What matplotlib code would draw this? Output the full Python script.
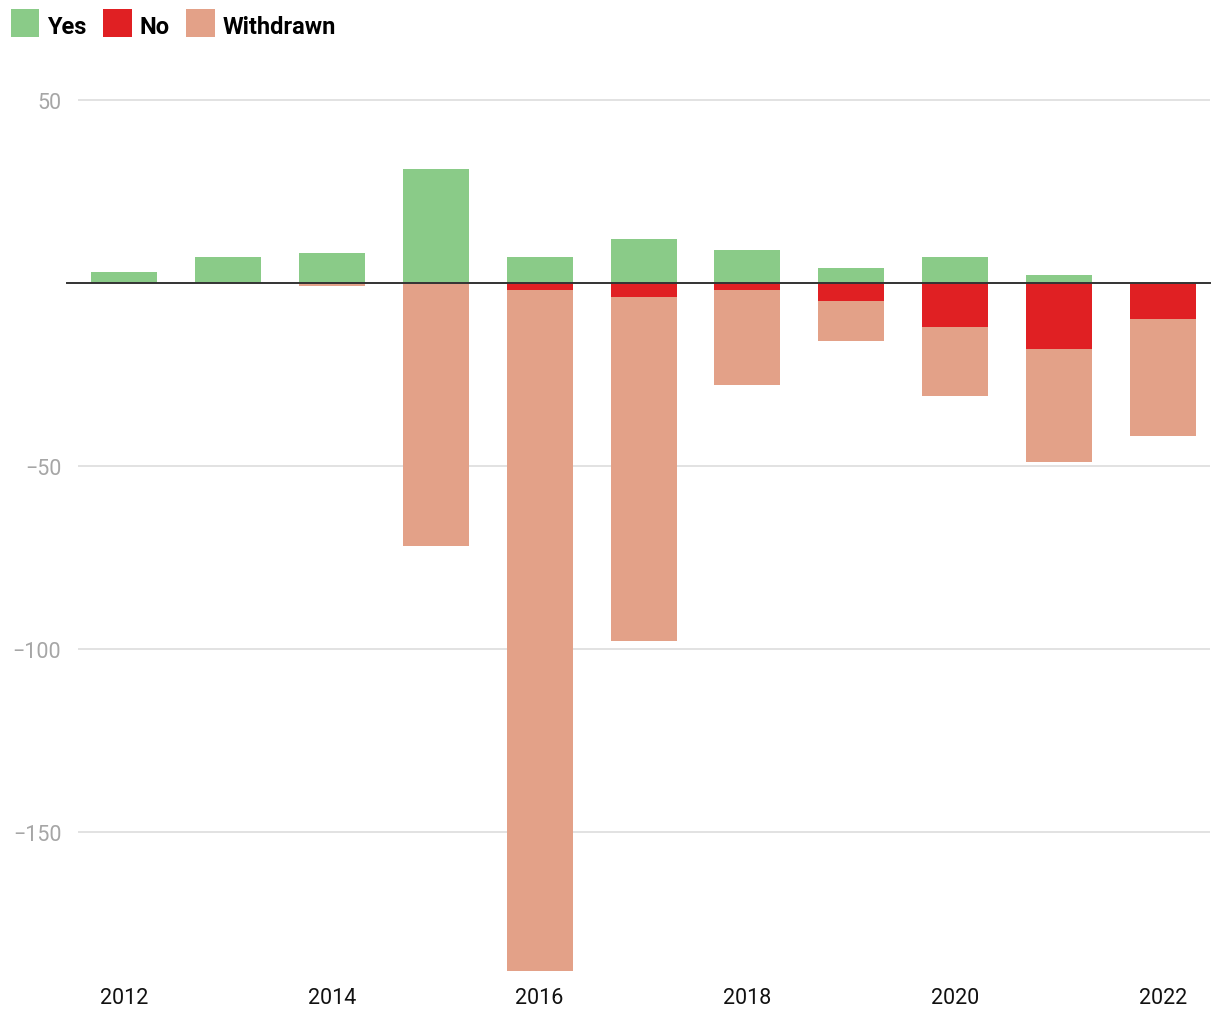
import numpy as np
import matplotlib.pyplot as plt

plt.rcParams['font.family'] = ['Roboto', 'DejaVu Sans']

# Data
years = [2012, 2013, 2014, 2015, 2016, 2017, 2018, 2019, 2020, 2021, 2022]
yes = [3, 7, 8, 31, 7, 12, 9, 4, 7, 2, 0]
no = [0, 0, 0, 0, 2, 4, 2, 5, 12, 18, 10]
withdrawn = [0, 0, 1, 72, 186, 94, 26, 11, 19, 31, 32]

c_yes = '#8ACB88'
c_no = '#E02023'
c_wd = '#E3A188'

fig = plt.figure(figsize=(12.2, 10.2), dpi=100)
ax = fig.add_axes([0.0639, 0.0475, 0.928, 0.862])

x = np.array(years)
no_neg = -np.array(no)
wd_neg = -np.array(withdrawn)
w = 0.635

ax.bar(x, yes, width=w, color=c_yes, label='Yes', zorder=2)
ax.bar(x, no_neg, width=w, color=c_no, label='No', zorder=2)
ax.bar(x, wd_neg, width=w, bottom=no_neg, color=c_wd, label='Withdrawn', zorder=2)

# zero line
ax.axhline(0, xmin=-0.0097, xmax=1, color='#333333', lw=1.4, zorder=3, clip_on=False)

ax.set_xlim(2011.56, 2022.45)
ax.set_ylim(-188, 52.3)

ax.set_yticks([-150, -100, -50, 50])
ax.set_yticklabels(['\u2212150', '\u2212100', '\u221250', '50'])
ax.set_xticks(range(2012, 2023, 2))
ax.grid(axis='y', color='#E2E2E2', lw=1.4, zorder=0)
ax.tick_params(axis='y', length=0, pad=12, labelsize=15.5, labelcolor='#A6A6A6')
ax.tick_params(axis='x', length=0, pad=12, labelsize=15.5, labelcolor='#111111')
for s in ax.spines.values():
    s.set_visible(False)

handles, labels = ax.get_legend_handles_labels()
leg = fig.legend(handles, labels, loc='upper left', bbox_to_anchor=(0.003, 0.993),
                 ncol=3, frameon=False, prop={'size': 17, 'weight': 'bold'},
                 handlelength=1.2, handleheight=1.2, handletextpad=0.35,
                 columnspacing=0.7, borderaxespad=0, borderpad=0.3)
for p in leg.get_patches():
    p.set_height(28 * 72 / 100 / 1.0)

fig.savefig('out.png', dpi=100)
